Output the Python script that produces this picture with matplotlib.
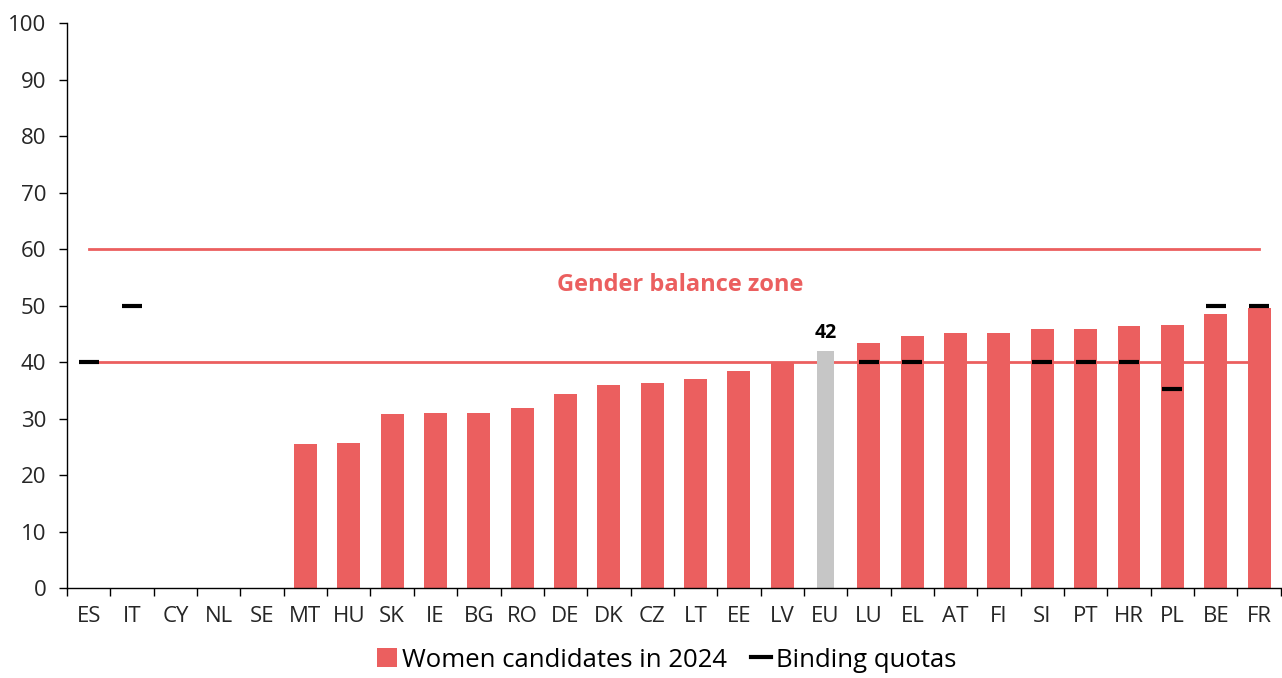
import matplotlib
matplotlib.use('Agg')

import matplotlib.pyplot as plt
from matplotlib.patches import Patch
from matplotlib.lines import Line2D
import numpy as np

plt.rcParams['font.family'] = ['Open Sans', 'DejaVu Sans']

# Veriler
ulkeler = ['ES', 'IT', 'CY', 'NL', 'SE', 'MT', 'HU', 'SK', 'IE', 'BG', 'RO', 'DE', 'DK', 'CZ',
           'LT', 'EE', 'LV', 'EU', 'LU', 'EL', 'AT', 'FI', 'SI', 'PT', 'HR', 'PL', 'BE', 'FR']
kadin_aday = [0, 0, 0, 0, 0, 25.5, 25.7, 30.8, 31.0, 31.0, 31.9, 34.3, 35.9, 36.3,
              37.0, 38.4, 39.9, 42.0, 43.4, 44.6, 45.1, 45.1, 45.8, 45.8, 46.4, 46.5, 48.5, 49.6]
kota = [40, 50, None, None, None, None, None, None, None, None, None, None, None, None,
        None, None, None, None, 40, 40, None, None, 40, 40, 40, 35.3, 50, 50]
alt_sinir = 40
ust_sinir = 60
eu_deger = 42

KIRMIZI = '#EB5F5F'
GRI = '#C6C6C6'

x = np.arange(len(ulkeler))

fig = plt.figure(figsize=(12.82, 6.78), dpi=100)
ax = fig.add_axes([0.0523, 0.1327, 0.9467, 0.8333])

# Denge bölgesi çizgileri
ax.plot([x[0], x[-1]], [ust_sinir, ust_sinir], color=KIRMIZI, lw=2, zorder=1)
ax.plot([x[0], x[-1]], [alt_sinir, alt_sinir], color=KIRMIZI, lw=2, zorder=1)

renkler = [GRI if u == 'EU' else KIRMIZI for u in ulkeler]
genislik = [0.41 if u == 'EU' else 0.53 for u in ulkeler]
ax.bar(x, kadin_aday, width=genislik, color=renkler, zorder=2)

# Bağlayıcı kotalar
kx = [i for i, k in enumerate(kota) if k is not None]
ky = [k for k in kota if k is not None]
ax.plot(kx, ky, linestyle='none', marker='_', markersize=14, markeredgewidth=3,
        color='black', zorder=3)

eu_i = ulkeler.index('EU')
ax.text(eu_i, eu_deger + 1.3, '42', ha='center', va='bottom', fontsize=14,
        fontweight='bold', color='black')
ax.text(13.65, 53.6, 'Gender balance zone', ha='center', va='center', fontsize=17,
        fontweight='bold', color=KIRMIZI)

ax.set_xlim(-0.5, len(ulkeler) - 0.5)
ax.set_ylim(0, 100)
ax.set_yticks(range(0, 101, 10))
ax.set_xticks(x)
ax.set_xticklabels(ulkeler)
ax.set_xticks(np.arange(-0.5, len(ulkeler), 1), minor=True)
ax.tick_params(axis='x', which='major', length=0, pad=13, labelsize=16, labelcolor='#262626')
ax.tick_params(axis='x', which='minor', length=6, width=1, direction='out')
ax.tick_params(axis='y', length=6, width=1, pad=9, labelsize=16, labelcolor='#262626')

for s in ['top', 'right']:
    ax.spines[s].set_visible(False)
for s in ['left', 'bottom']:
    ax.spines[s].set_linewidth(1)

isaretler = [Patch(facecolor=KIRMIZI, edgecolor='none', label='Women candidates in 2024'),
             Line2D([0], [0], color='black', lw=3, label='Binding quotas')]
fig.legend(handles=isaretler, loc='lower center', bbox_to_anchor=(0.52, -0.026), ncol=2,
           frameon=False, fontsize=18.5, handlelength=0.8, handleheight=0.8,
           handletextpad=0.2, columnspacing=0.9)

plt.savefig('out.png', dpi=100)
